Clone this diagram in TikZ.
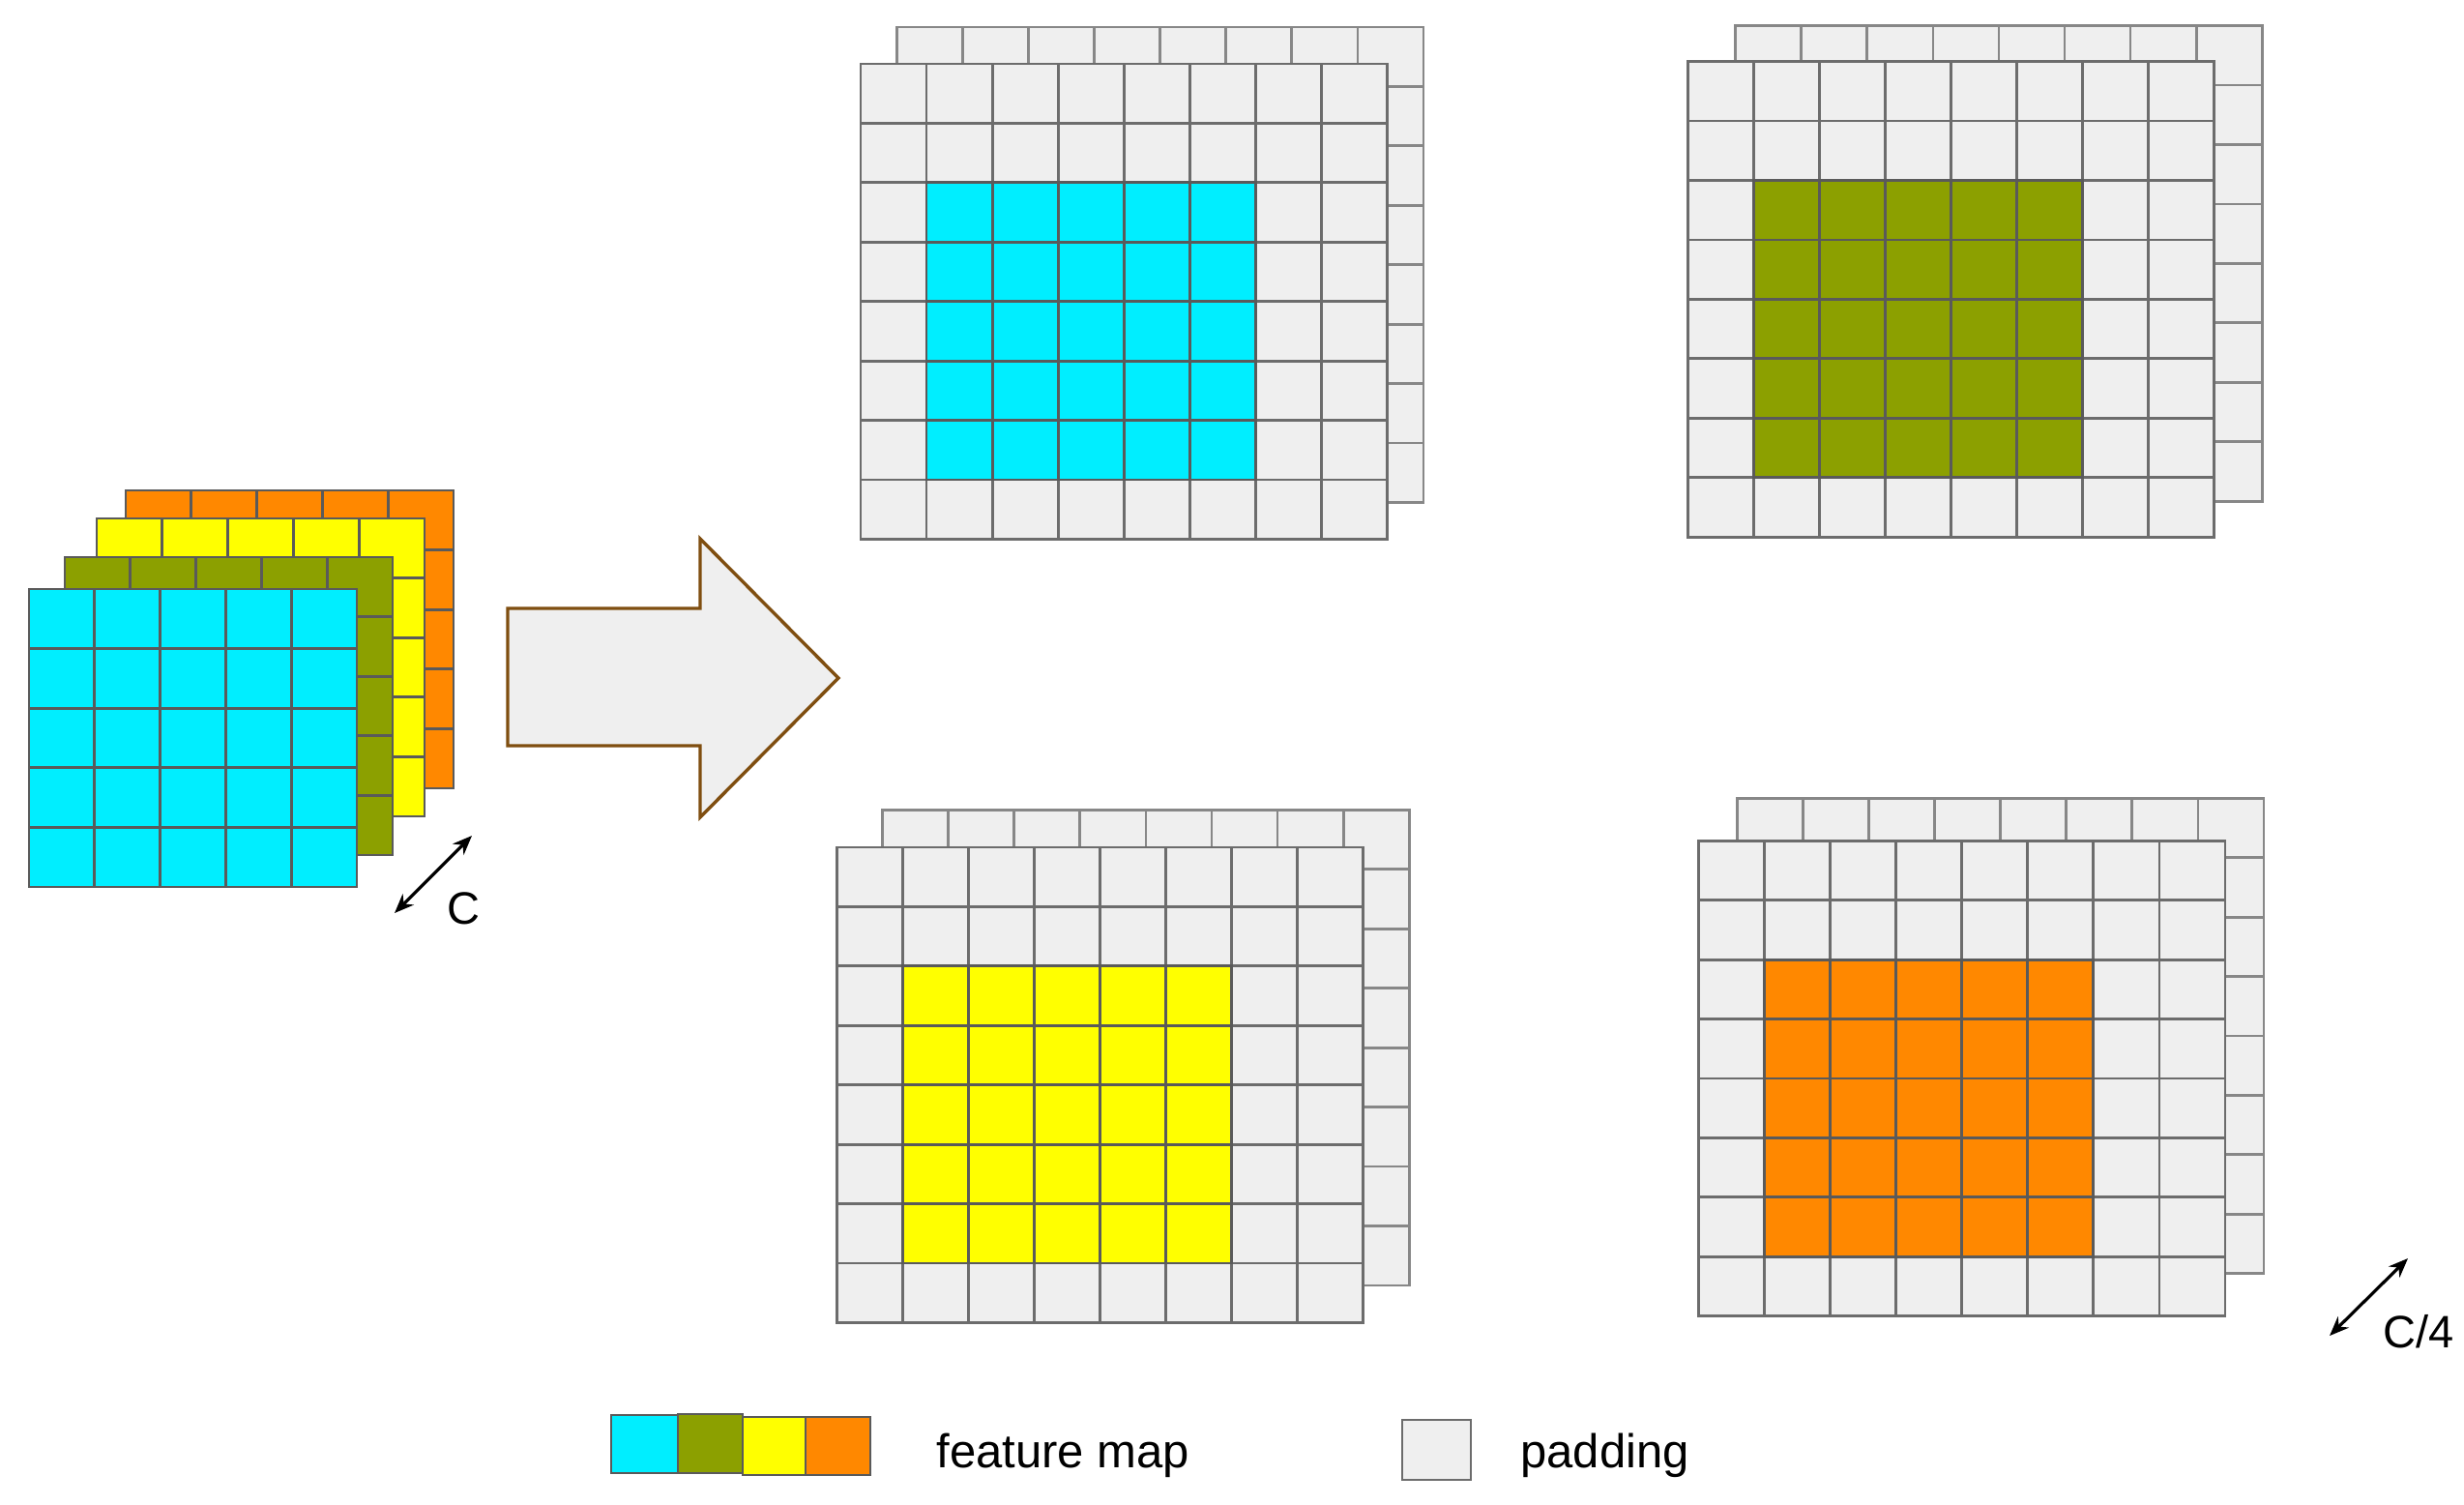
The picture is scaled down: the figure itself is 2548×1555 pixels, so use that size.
\documentclass[tikz,border=0pt]{standalone}
\usepackage{fontspec}
\setmainfont{Liberation Sans}
\usetikzlibrary{arrows.meta}
\definecolor{fmcyan}{RGB}{0,238,255}
\definecolor{fmolive}{RGB}{140,160,0}
\definecolor{fmyellow}{RGB}{255,255,0}
\definecolor{fmorange}{RGB}{255,136,0}
\definecolor{padfill}{RGB}{239,239,239}
\definecolor{padline}{RGB}{108,108,108}
\definecolor{backline}{RGB}{135,135,135}
\definecolor{fmline}{RGB}{90,90,90}
\definecolor{arrowbrown}{RGB}{127,78,16}
\def\gcw{68.06}
\def\gch{61.44}
\newcommand\padgrid[5]{%
  \foreach \i in {0,...,7}{\foreach \j in {0,...,7}{%
    \draw[backcell] ({#3+\i*\gcw},{#4+\j*\gch}) rectangle ++(\gcw,\gch);}}
  \foreach \i in {0,...,7}{\foreach \j in {0,...,7}{%
    \draw[padcell] ({#1+\i*\gcw},{#2+\j*\gch}) rectangle ++(\gcw,\gch);}}
  \foreach \i in {1,...,5}{\foreach \j in {2,...,6}{%
    \draw[fmcell,fill=#5] ({#1+\i*\gcw},{#2+\j*\gch}) rectangle ++(\gcw,\gch);}}
}
\newcommand\fmlayer[3]{%
  \foreach \i in {0,...,4}{\foreach \j in {0,...,4}{%
    \draw[fmcell,fill=#3] ({#1+\i*67.8},{#2+\j*61.6}) rectangle ++(67.8,61.6);}}
}
\begin{document}
\begin{tikzpicture}[x=0.5pt,y=-0.5pt,
  padcell/.style={draw=padline,fill=padfill,line width=1.4pt},
  backcell/.style={draw=backline,fill=padfill,line width=1.4pt},
  fmcell/.style={draw=fmline,line width=1.4pt},
  dimarrow/.style={line width=1.6pt,{Stealth[length=10pt,width=8pt]}-{Stealth[length=10pt,width=8pt]}},
  bigarrow/.style={draw=arrowbrown,fill=padfill,line width=1.7pt,line join=miter},
  lbl/.style={font=\fontsize{23.5}{28}\selectfont,inner sep=0pt},
  legtext/.style={font=\fontsize{24.5}{29}\selectfont,inner sep=0pt,anchor=base west},
  legbox/.style={draw=fmline,line width=1.4pt}]
\useasboundingbox (0,0) rectangle (2548,1555);
\fill[white] (0,0) rectangle (2548,1555);

% input feature map stack
\fmlayer{130}{507}{fmorange}
\fmlayer{100}{536}{fmyellow}
\fmlayer{67}{576}{fmolive}
\fmlayer{30}{609}{fmcyan}

\coordinate (ca) at (408,944);
\coordinate (cb) at (488,864);
\draw[dimarrow] (ca) -- (cb);
\node[lbl] (clabel) at (479,939) {C};

% big arrow
\draw[bigarrow] (525,629) -- (724,629) -- (724,557) -- (867,701) -- (724,845) -- (724,771) -- (525,771) -- cycle;

% padded grids
\padgrid{890}{66}{927.5}{28}{fmcyan}
\padgrid{1745.3}{63.6}{1794.7}{26.6}{fmolive}
\padgrid{865.3}{875.9}{912.7}{837.4}{fmyellow}
\padgrid{1756.5}{869.2}{1796.5}{825.2}{fmorange}

\coordinate (c4a) at (2409,1381);
\coordinate (c4b) at (2490,1301);
\draw[dimarrow] (c4a) -- (c4b);
\node[lbl] (c4label) at (2501,1377) {C/4};

% legend
\draw[legbox,fill=fmcyan] (632,1463) rectangle (701,1523);
\draw[legbox,fill=fmolive] (701,1462) rectangle (768,1523);
\draw[legbox,fill=fmyellow] (768,1465) rectangle (833,1525);
\draw[legbox,fill=fmorange] (833,1465) rectangle (900,1525);
\node[legtext] (fmtext) at (968,1517) {feature map};
\draw[padcell] (1450,1468) rectangle (1521,1530);
\node[legtext] (padtext) at (1572,1517) {padding};
\end{tikzpicture}
\end{document}
